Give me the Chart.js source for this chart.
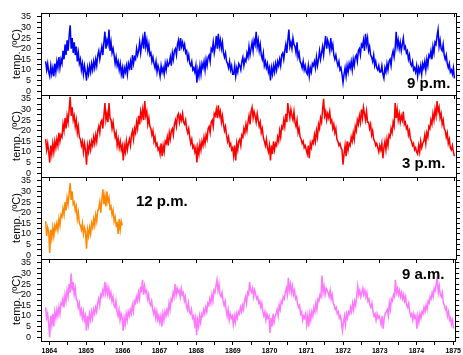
<!DOCTYPE html>
<html><head><meta charset="utf-8">
<script src="https://cdn.jsdelivr.net/npm/chart.js@4"></script>
<style>
body{margin:0;background:#fff;}
#wrap{position:relative;width:463px;height:355px;overflow:hidden;background:#fff;}
canvas{position:absolute;left:0;top:0;}
.lbl{position:absolute;font:bold 15px "Liberation Sans",Arial,sans-serif;line-height:15px;white-space:nowrap;color:#000;}
</style></head><body>
<div id="wrap">
<canvas id="c0" width="463" height="355"></canvas>
<canvas id="c1" width="463" height="355"></canvas>
<canvas id="c2" width="463" height="355"></canvas>
<canvas id="c3" width="463" height="355"></canvas>
</div>
<script>
// ---- data ----
const startYear = 1863.9;      // first reading
const perYear = 36;            // readings per year in the arrays below
const yearTicks = [1864,1865,1866,1867,1868,1869,1870,1871,1872,1873,1874,1875];
const halfYearTicks = [1864.5,1865.5,1866.5,1867.5,1868.5,1869.5,1870.5,1871.5,1872.5,1873.5,1874.5];
const tempTicks = [0,2.5,5,7.5,10,12.5,15,17.5,20,22.5,25,27.5,30,32.5,35];
const panelNames = ['9 p.m.','3 p.m.','12 p.m.','9 a.m.'];
const yTitle = 'temp. (ºC)';

const pm9 = [14,10,13,9,
7,12,8, 11,7,13, 9,14,11, 16,11,15, 13,19,15, 22,17,24, 19,26,31, 20,25,18, 23,17,21, 14,18,13, 15,10,13, 8,12,9,
5,11,8, 12,9,13, 10,14,11, 15,12,17, 19,15,18, 21,17,23, 28,20,24, 22,29,19, 23,18,20, 17,13,16, 12,14,10, 13,8,11,
6,11,9, 12,8,13, 11,14,10, 17,13,16, 15,20,17, 19,23,18, 22,25,20, 28,21,24, 19,22,17, 18,14,16, 13,11,14, 9,12,10,
7,12,9, 11,8,13, 10,14,12, 13,16,12, 18,15,19, 20,17,22, 24,19,25, 21,23,20, 22,18,19, 15,17,13, 12,14,10, 11,9,12,
4,10,7, 12,8,13, 11,14,10, 15,12,16, 17,14,20, 19,23,18, 21,26,20, 27,21,24, 20,23,18, 16,18,14, 13,11,14, 10,12,8,
8,12,7, 11,9,13, 12,10,14, 16,12,15, 14,18,16, 21,17,20, 23,19,24, 22,28,21, 24,19,22, 17,15,18, 12,14,11, 13,9,11,
5,11,8, 12,9,13, 10,14,12, 15,12,17, 18,15,19, 22,18,24, 29,21,23, 20,25,22, 21,18,23, 16,18,14, 13,11,14, 10,12,9,
8,12,7, 11,9,13, 12,14,11, 16,12,15, 19,15,18, 21,17,22, 26,20,24, 22,19,25, 20,22,17, 15,17,14, 12,14,10, 11,8,4,
8,11,7, 12,9,13, 11,14,10, 15,12,16, 17,14,19, 20,17,22, 21,24,19, 27,22,25, 19,21,17, 16,14,17, 12,14,11, 10,12,9,
9,12,8, 6,11,9, 13,10,14, 15,12,17, 19,16,20, 28,21,24, 20,23,19, 22,25,20, 21,18,19, 15,17,13, 12,14,10, 11,9,12,
7,11,9, 12,8,13, 11,14,10, 15,12,17, 16,19,15, 21,18,23, 22,26,29, 21,24,20, 19,22,17, 15,17,13, 11,13,9, 10,8,11,
6];

const pm3 = [16,11,14,10,
5,13,9, 14,10,15, 12,16,13, 19,15,18, 17,23,20, 26,21,27, 24,30,36, 27,31,25, 27,22,25, 19,22,17, 16,13,15, 10,14,11,
4,13,10, 14,11,15, 13,17,14, 18,15,20, 22,19,24, 25,21,27, 33,25,28, 24,33,26, 25,21,24, 20,17,19, 13,16,12, 15,11,13,
6,13,10, 15,11,14, 16,13,18, 20,16,21, 19,24,21, 27,23,29, 26,30,25, 34,27,29, 23,26,22, 21,18,20, 15,17,13, 14,11,12,
9,14,8, 13,10,15, 14,17,13, 19,16,20, 21,18,23, 25,22,27, 28,24,27, 25,28,24, 23,25,21, 19,21,17, 14,16,12, 13,10,12,
5,12,9, 14,11,15, 13,17,14, 18,16,21, 22,19,24, 25,22,28, 27,30,26, 32,27,29, 24,27,23, 20,22,18, 15,17,13, 14,11,12,
8,13,6, 14,11,15, 16,13,18, 17,21,19, 23,20,24, 27,23,29, 31,26,29, 27,24,28, 25,22,24, 19,21,17, 15,13,16, 12,10,13,
6,13,9, 15,11,14, 13,17,15, 20,17,22, 21,25,22, 28,24,33, 29,26,30, 27,25,29, 24,22,25, 19,21,17, 16,14,15, 12,13,11,
9,13,7, 14,12,15, 14,18,15, 20,17,23, 21,26,24, 30,35,27, 29,25,28, 26,29,24, 25,21,23, 19,21,16, 15,13,14, 12,11,4,
9,13,8, 15,11,14, 13,17,15, 19,16,22, 20,25,23, 27,24,30, 26,31,28, 25,29,24, 24,21,23, 18,20,16, 15,13,14, 12,10,13,
11,14,7, 12,15,11, 16,13,18, 17,21,19, 24,22,33, 26,30,25, 28,24,27, 25,29,23, 24,21,22, 18,20,16, 15,13,14, 11,12,10,
9,13,10, 15,12,14, 15,18,14, 19,17,22, 21,25,23, 28,25,30, 27,34,29, 31,26,28, 23,25,21, 20,17,19, 14,16,12, 11,13,10,
8];

const pm12 = [16,9,13,11,
1,12,8, 13,9,14, 12,15,12, 17,14,19, 18,22,19, 25,21,27, 24,29,34, 26,30,24, 25,21,23, 17,20,15, 14,12,15, 10,13,11,
3,12,9, 13,10,15, 13,17,14, 19,16,21, 22,25,20, 26,31,24, 28,23,30, 25,27,22, 23,19,21, 16,18,14, 15,10,17, 12,16,14];

const am9 = [14,9,11,6,
0,10,6, 11,5,12, 9,13,10, 14,11,16, 15,18,14, 20,17,22, 19,25,21, 30,22,26, 20,23,18, 17,14,16, 11,13,9, 12,8,10,
3,10,6, 11,8,12, 9,13,11, 14,12,16, 18,15,20, 19,22,20, 26,21,24, 20,23,19, 21,17,19, 15,14,17, 12,10,13, 8,11,9,
3,9,6, 11,8,12, 10,13,11, 15,12,17, 16,19,17, 21,18,23, 22,27,20, 24,21,22, 18,20,16, 15,17,13, 11,13,9, 12,8,10,
7,10,5, 11,8,12, 10,13,11, 16,13,18, 17,21,19, 25,20,23, 21,22,19, 23,20,21, 17,19,15, 13,16,12, 11,13,9, 10,6,9,
1,8,5, 10,7,11, 10,13,11, 14,12,16, 15,18,16, 20,17,22, 21,24,27, 22,25,20, 19,21,17, 15,17,13, 10,13,8, 11,9,10,
6,10,7, 11,9,12, 11,14,12, 15,13,17, 19,16,21, 20,26,22, 21,23,19, 22,20,18, 19,16,17, 14,16,12, 10,12,8, 11,9,10,
2,9,5, 11,7,10, 11,13,10, 15,13,17, 16,19,18, 21,23,20, 28,22,25, 21,24,20, 22,18,19, 16,14,15, 11,12,8, 10,9,11,
6,10,5, 11,8,12, 10,14,12, 16,13,18, 17,20,19, 29,21,24, 20,23,22, 21,19,22, 18,20,16, 15,13,14, 11,12,9, 10,7,3,
7,10,6, 11,9,12, 11,14,12, 16,13,17, 15,19,24, 20,22,19, 21,23,20, 22,19,21, 17,18,15, 14,16,12, 10,11,8, 11,9,10,
8,6,10, 4,9,11, 12,13,10, 16,13,18, 17,20,19, 27,21,23, 20,22,19, 21,18,20, 17,19,15, 14,16,12, 10,11,8, 11,9,10,
4,10,7, 11,9,12, 11,14,12, 15,13,17, 16,19,18, 21,19,23, 22,25,28, 21,24,20, 19,21,16, 15,13,14, 10,12,8, 9,6,8,
4];

// ---- layout / style ----
const FONT = '"Liberation Sans", Arial, sans-serif';
const W = 463, H = 355;
const X_MIN = 1863.774, X_MAX = 1875.054;
const Y_MIN = -1.8, Y_MAX = 36.8;
const panelTops = [13, 95, 177, 259];
const panelBottoms = [95, 177, 259, 341];
const colors = ['#0000ff', '#ff0000', '#ff8800', '#ff77ff'];
const seriesList = [pm9, pm3, pm12, am9];
const labelPos = [{left:407,top:75},{left:402,top:155},{left:136,top:192.5},{left:402,top:266}];

function makePanel(idx) {
  const isLast = idx === 3;
  const bottomH = isLast ? 14 : 0;
  const values = seriesList[idx];
  const pts = values.map((v, i) => ({x: startYear + i / perYear, y: v}));
  new Chart(document.getElementById('c' + idx), {
    type: 'line',
    data: {datasets: [{data: pts, borderColor: colors[idx], borderWidth: 1.5, pointRadius: 0, tension: 0, fill: false}]},
    options: {
      responsive: false, animation: false, devicePixelRatio: 1, parsing: false,
      layout: {padding: {left: 0, right: 0, top: panelTops[idx], bottom: H - panelBottoms[idx] - bottomH}},
      plugins: {legend: {display: false}, tooltip: {enabled: false}},
      scales: {
        x: {
          type: 'linear', position: 'bottom', min: X_MIN, max: X_MAX,
          afterBuildTicks: s => { s.ticks = (isLast ? yearTicks.concat(halfYearTicks).sort((a,b)=>a-b) : yearTicks).map(v => ({value: v})); },
          afterFit: s => { s.height = bottomH; },
          border: {display: true, color: '#000', width: 1},
          grid: {drawOnChartArea: false, drawTicks: isLast, tickLength: 4, color: '#000'},
          ticks: {display: isLast, autoSkip: false, maxRotation: 0, padding: 2, color: '#000',
                  font: {family: FONT, size: 7, weight: 'bold'},
                  callback: v => Number.isInteger(v) ? String(v) : ''}
        },
        xt: {
          type: 'linear', position: 'top', min: X_MIN, max: X_MAX,
          afterBuildTicks: s => { s.ticks = yearTicks.map(v => ({value: v})); },
          afterFit: s => { s.height = 0; },
          border: {display: true, color: '#000', width: 1},
          grid: {drawOnChartArea: false, drawTicks: true, tickLength: -4, color: '#000'},
          ticks: {display: false}
        },
        y: {
          type: 'linear', position: 'left', min: Y_MIN, max: Y_MAX,
          afterBuildTicks: s => { s.ticks = tempTicks.map(v => ({value: v})); },
          afterFit: s => { s.width = 41; },
          border: {display: true, color: '#000', width: 1},
          grid: {drawOnChartArea: false, tickLength: 4, color: '#000'},
          ticks: {autoSkip: false, padding: 6, color: '#000', font: {family: FONT, size: 9},
                  callback: v => (v % 5 === 0) ? String(v) : ''},
          title: {display: true, text: yTitle, color: '#000', font: {family: FONT, size: 11}, padding: {top: 10, bottom: 0}}
        },
        yr: {
          type: 'linear', position: 'right', min: Y_MIN, max: Y_MAX,
          afterBuildTicks: s => { s.ticks = tempTicks.map(v => ({value: v})); },
          afterFit: s => { s.width = 7; },
          border: {display: true, color: '#000', width: 1},
          grid: {drawOnChartArea: false, tickLength: 4, color: '#000'},
          ticks: {autoSkip: false, padding: 0, callback: () => ''}
        }
      }
    }
  });
  const d = document.createElement('div');
  d.className = 'lbl';
  d.style.left = labelPos[idx].left + 'px';
  d.style.top = labelPos[idx].top + 'px';
  d.textContent = panelNames[idx];
  document.getElementById('wrap').appendChild(d);
}
[0,1,2,3].forEach(makePanel);
</script>
</body></html>
